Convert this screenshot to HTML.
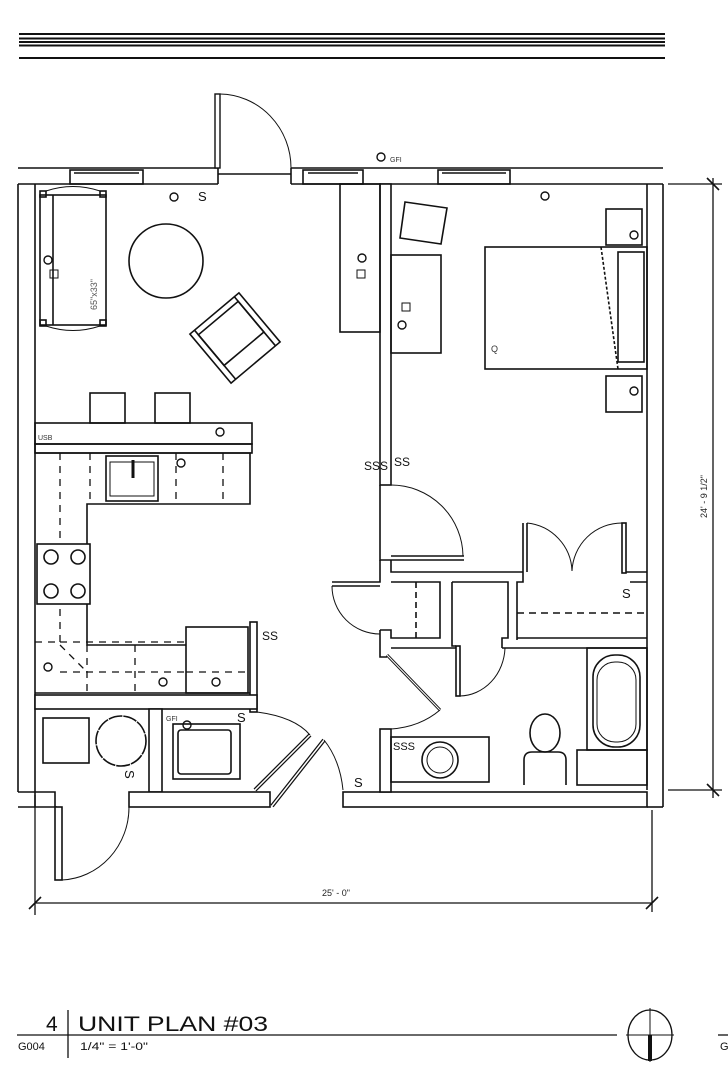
<!DOCTYPE html>
<html><head><meta charset="utf-8"><style>
html,body{margin:0;padding:0;background:#fff;}
svg{display:block;}
text{font-family:"Liberation Sans",sans-serif;}
</style></head><body>
<svg width="728" height="1080" viewBox="0 0 728 1080" xmlns="http://www.w3.org/2000/svg">
<g stroke="#111" fill="none" stroke-width="1.6">
<line x1="19" y1="34" x2="665" y2="34" stroke-width="2"/>
<line x1="19" y1="38.5" x2="665" y2="38.5" stroke-width="2"/>
<line x1="19" y1="42" x2="665" y2="42" stroke-width="2"/>
<line x1="19" y1="45.5" x2="665" y2="45.5" stroke-width="2"/>
<line x1="19" y1="58" x2="665" y2="58" stroke-width="2"/>

<line x1="18" y1="168" x2="218" y2="168"/>
<line x1="291" y1="168" x2="663" y2="168"/>
<line x1="218" y1="174" x2="291" y2="174"/>
<line x1="18" y1="184" x2="218" y2="184"/>
<line x1="291" y1="184" x2="663" y2="184"/>
<line x1="218" y1="168" x2="218" y2="184"/>
<line x1="291" y1="168" x2="291" y2="184"/>
<line x1="18" y1="184" x2="18" y2="792"/>
<line x1="35" y1="184" x2="35" y2="792"/>
<line x1="647" y1="184" x2="647" y2="790"/>
<line x1="663" y1="184" x2="663" y2="790"/>
<rect x="70" y="170" width="73" height="14"/><line x1="74" y1="173" x2="139" y2="173"/>
<rect x="303" y="170" width="60" height="14"/><line x1="308" y1="173" x2="358" y2="173"/>
<rect x="438" y="170" width="72" height="14"/><line x1="442" y1="173" x2="506" y2="173"/>
<rect x="215" y="94" width="5" height="74" fill="#fff" stroke-width="1.4"/>
<path d="M220 94 A72 74 0 0 1 291 168" stroke-width="1"/>

<rect x="380" y="184" width="11" height="301" fill="#fff"/>
<rect x="340" y="184" width="40" height="148"/>
<rect x="391" y="255" width="50" height="98"/>
<polygon points="405,202 447,208 441,244 400,238" />
<rect x="485" y="247" width="162" height="122"/>
<rect x="618" y="252" width="26" height="110"/>
<line x1="601" y1="247" x2="618" y2="369" stroke-dasharray="3 2"/>
<rect x="606" y="209" width="36" height="36"/>
<rect x="606" y="376" width="36" height="36"/>
<rect x="40" y="195" width="66" height="130"/>
<line x1="53" y1="195" x2="53" y2="325"/>
<rect x="40" y="191" width="6" height="6"/><rect x="100" y="191" width="6" height="6"/>
<rect x="40" y="320" width="6" height="6"/><rect x="100" y="320" width="6" height="6"/>
<path d="M46 191 Q73 182 100 191" stroke-width="1"/>
<path d="M46 326 Q73 335 100 326" stroke-width="1"/>
<circle cx="166" cy="261" r="37"/>
<g transform="translate(235,338) rotate(-40)">
<rect x="-32" y="-32" width="64" height="64"/>
<rect x="-26" y="-26" width="52" height="40"/>
<line x1="-26" y1="-32" x2="-26" y2="32"/><line x1="26" y1="-32" x2="26" y2="32"/>
</g>
<rect x="90" y="393" width="35" height="30"/>
<rect x="155" y="393" width="35" height="30"/>
<rect x="35" y="423" width="217" height="21"/>
<rect x="35" y="444" width="217" height="9"/>
<path d="M35 453 L250 453 L250 504 L87 504 L87 645 L186 645"/>
<g stroke-dasharray="7 6" stroke-width="1.3">
<line x1="60" y1="453" x2="60" y2="645"/>
<line x1="60" y1="642" x2="186" y2="642"/>
<line x1="35" y1="642" x2="60" y2="642"/>
<line x1="90" y1="453" x2="90" y2="504"/><line x1="176" y1="453" x2="176" y2="504"/>
<line x1="223" y1="453" x2="223" y2="504"/>
<line x1="60" y1="672" x2="186" y2="672"/>
<line x1="87" y1="645" x2="87" y2="693"/><line x1="135" y1="645" x2="135" y2="693"/>
<line x1="60" y1="645" x2="87" y2="672"/>
<line x1="186" y1="672" x2="248" y2="672"/>
</g>
<rect x="106" y="456" width="52" height="45"/><rect x="110" y="462" width="44" height="34" stroke-width="1"/>
<line x1="133" y1="460" x2="133" y2="478" stroke-width="3"/>
<rect x="37" y="544" width="53" height="60" fill="#fff"/>
<circle cx="51" cy="557" r="7"/><circle cx="78" cy="557" r="7"/>
<circle cx="51" cy="591" r="7"/><circle cx="78" cy="591" r="7"/>
<rect x="186" y="627" width="62" height="66"/>
<rect x="250" y="622" width="7" height="90" fill="#fff"/>
<line x1="35" y1="693" x2="250" y2="693"/>
<rect x="35" y="695" width="222" height="14" fill="#fff"/>
<rect x="149" y="709" width="13" height="83" fill="#fff"/>
<rect x="43" y="718" width="46" height="45"/>
<circle cx="121" cy="741" r="25" stroke-dasharray="14 1"/>
<rect x="173" y="724" width="67" height="55"/>
<rect x="178" y="730" width="53" height="44" rx="3"/>
<path d="M18 792 L35 792 L35 807 L57 807"/>
<line x1="18" y1="807" x2="35" y2="807"/>
<rect x="55" y="807" width="7" height="73" fill="#fff"/>
<path d="M62 880 A70 73 0 0 0 129 807" stroke-width="1"/>
<path d="M35 792 L55 792 L55 807"/>
<rect x="129" y="792" width="141" height="15" fill="#fff"/>
<line x1="255" y1="790" x2="310" y2="735" stroke-width="4"/>
<line x1="255" y1="790" x2="310" y2="735" stroke="#fff" stroke-width="1.5"/>
<line x1="272" y1="806" x2="324" y2="740" stroke-width="4"/>
<line x1="272" y1="806" x2="324" y2="740" stroke="#fff" stroke-width="1.5"/>
<path d="M257 712 Q295 717 310 735" stroke-width="1"/>
<path d="M324 740 Q340 760 343 790" stroke-width="1"/>
<rect x="343" y="792" width="304" height="15" fill="#fff"/>
<line x1="647" y1="807" x2="663" y2="807"/>
<line x1="663" y1="790" x2="663" y2="807"/>
<line x1="391" y1="556" x2="464" y2="556"/><line x1="391" y1="560" x2="464" y2="560"/>
<path d="M391 485 A72 72 0 0 1 463 556" stroke-width="1"/>
<path d="M380 485 L380 560 L391 560"/>
<path d="M391 560 L391 572 L523 572"/>
<path d="M380 560 L380 582 L332 582"/>
<line x1="332" y1="586" x2="380" y2="586"/>
<path d="M332 586 A48 48 0 0 0 380 634" stroke-width="1"/>
<path d="M380 630 L380 657 L387 657"/>
<path d="M391 582 L440 582 L440 638 L391 638 L391 630 L380 630"/>
<line x1="416" y1="582" x2="416" y2="638" stroke-dasharray="6 4"/>
<path d="M452 582 L508 582 L508 638 L502 638 L502 648"/>
<path d="M452 582 L452 646 L456 646"/>
<rect x="456" y="646" width="4" height="50"/>
<path d="M460 696 A46 50 0 0 0 505 648" stroke-width="1"/>
<path d="M517 640 L517 582 L523 582 L523 523"/>
<line x1="527" y1="523" x2="527" y2="572"/>
<rect x="622" y="523" width="4" height="50"/>
<path d="M527 523 A50 50 0 0 1 572 571" stroke-width="1"/>
<path d="M622 523 A50 50 0 0 0 572 571" stroke-width="1"/>
<line x1="626" y1="572" x2="647" y2="572"/><line x1="630" y1="582" x2="647" y2="582"/>
<line x1="517" y1="613" x2="647" y2="613" stroke-dasharray="7 5"/>
<line x1="517" y1="638" x2="647" y2="638"/>
<line x1="391" y1="648" x2="456" y2="648"/><line x1="502" y1="648" x2="647" y2="648"/>
<line x1="387" y1="655" x2="440" y2="710" stroke-width="3"/>
<line x1="387" y1="655" x2="440" y2="710" stroke="#fff" stroke-width="1"/>
<path d="M440 710 Q420 727 391 729" stroke-width="1"/>
<rect x="380" y="729" width="11" height="63" fill="#fff"/>
<rect x="587" y="648" width="60" height="102"/>
<rect x="577" y="750" width="70" height="35"/>
<rect x="593" y="655" width="47" height="92" rx="22"/>
<rect x="597" y="662" width="39" height="80" rx="18" stroke-width="1"/>
<ellipse cx="545" cy="733" rx="15" ry="19"/>
<path d="M524 785 L524 760 Q524 752 532 752 L558 752 Q566 752 566 760 L566 785"/>
<rect x="391" y="737" width="98" height="45"/>
<circle cx="440" cy="760" r="18"/><circle cx="440" cy="760" r="13" stroke-width="1"/>
<line x1="35" y1="903" x2="652" y2="903" stroke-width="1.3"/>
<line x1="35" y1="795" x2="35" y2="915" stroke-width="1.3"/>
<line x1="652" y1="810" x2="652" y2="912" stroke-width="1.3"/>
<line x1="29" y1="909" x2="41" y2="897"/><line x1="646" y1="909" x2="658" y2="897"/>
<line x1="713" y1="178" x2="713" y2="798" stroke-width="1.3"/>
<line x1="668" y1="184" x2="722" y2="184" stroke-width="1.3"/>
<line x1="668" y1="790" x2="722" y2="790" stroke-width="1.3"/>
<line x1="707" y1="178" x2="719" y2="190"/><line x1="707" y1="784" x2="719" y2="796"/>
<g stroke-width="1.4">
<circle cx="174" cy="197" r="4"/><circle cx="381" cy="157" r="4"/><circle cx="545" cy="196" r="4"/>
<circle cx="634" cy="235" r="4"/><circle cx="634" cy="391" r="4"/><circle cx="220" cy="432" r="4"/>
<circle cx="181" cy="463" r="4"/><circle cx="362" cy="258" r="4"/><circle cx="402" cy="325" r="4"/>
<circle cx="216" cy="682" r="4"/><circle cx="163" cy="682" r="4"/><circle cx="48" cy="667" r="4"/>
<circle cx="187" cy="725" r="4"/><circle cx="48" cy="260" r="4"/>
</g>
<rect x="50" y="270" width="8" height="8" stroke-width="1"/>
<rect x="357" y="270" width="8" height="8" stroke-width="1"/>
<rect x="402" y="303" width="8" height="8" stroke-width="1"/>
<ellipse cx="650" cy="1035" rx="22" ry="25" stroke-width="1.3"/>
<line x1="650" y1="1008" x2="650" y2="1062" stroke-width="1"/>
<line x1="626" y1="1035" x2="674" y2="1035" stroke-width="1"/>
<line x1="650" y1="1035" x2="650" y2="1061" stroke-width="4"/>
<line x1="17" y1="1035" x2="617" y2="1035" stroke-width="1.3"/>
<line x1="68" y1="1010" x2="68" y2="1058" stroke-width="1.3"/>
<line x1="718" y1="1035" x2="728" y2="1035" stroke-width="1.3"/>
</g>
<g fill="#111" font-size="13">
<text x="198" y="201">S</text><text x="125" y="780" transform="rotate(90 130 775)">S</text>
<text x="354" y="787">S</text><text x="622" y="598">S</text>
<text x="237" y="722">S</text>
<text x="364" y="470" font-size="12">SSS</text><text x="394" y="466" font-size="12">SS</text>
<text x="393" y="750" font-size="11">SSS</text>
<text x="262" y="640" font-size="12">SS</text>
</g>
<g fill="#333" font-size="7">
<text x="390" y="162">GFI</text><text x="166" y="721">GFI</text>
<text x="38" y="440">USB</text>
<text x="491" y="352" font-size="9">Q</text>
</g>
<text x="97" y="310" font-size="9" fill="#555" transform="rotate(-90 97 310)">65"x33"</text>
<text x="707" y="518" font-size="9" fill="#222" transform="rotate(-90 707 518)">24' - 9 1/2"</text>
<text x="322" y="896" font-size="9" fill="#222">25' - 0"</text>
<text x="46" y="1031" font-size="21" fill="#111">4</text>
<text x="78" y="1031" font-size="21" fill="#111" textLength="190" lengthAdjust="spacingAndGlyphs">UNIT PLAN #03</text>
<text x="18" y="1050" font-size="11" fill="#111">G004</text>
<text x="80" y="1050" font-size="11" fill="#111" textLength="68" lengthAdjust="spacingAndGlyphs">1/4" = 1'-0"</text>
<text x="720" y="1050" font-size="11" fill="#111">G</text>
</svg>
</body></html>
